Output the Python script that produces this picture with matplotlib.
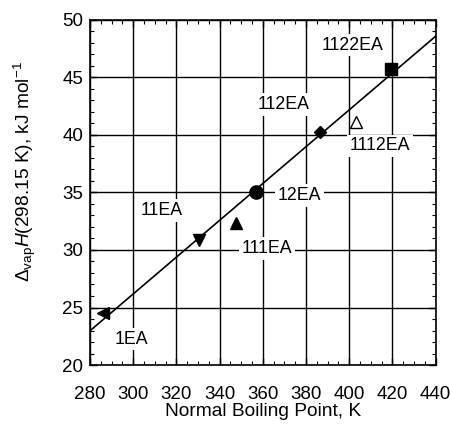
import matplotlib
matplotlib.use("Agg")
import matplotlib.pyplot as plt
from matplotlib.ticker import MultipleLocator

plt.rcParams['font.family'] = ['Liberation Sans', 'DejaVu Sans']
plt.rcParams['mathtext.fontset'] = 'custom'
plt.rcParams['mathtext.rm'] = 'Liberation Sans'
plt.rcParams['mathtext.it'] = 'Liberation Sans:italic'

# compounds: boiling point (K), dHvap (kJ/mol), marker
names = ["1EA", "11EA", "111EA", "12EA", "112EA", "1112EA", "1122EA"]
bp = [286.2, 330.6, 347.4, 356.9, 386.5, 403.1, 419.4]
dh = [24.5, 30.9, 32.35, 35.05, 40.25, 41.1, 45.7]
markers = ["<", "v", "^", "o", "D", "^", "s"]
sizes = [8, 9, 8, 9.5, 6.5, 8, 9]
filled = [True, True, True, True, True, False, True]

# label positions
lab_x = [299.3, 313.2, 362.1, 376.9, 369.5, 414.3, 401.6]
lab_y = [22.26, 33.45, 30.13, 34.7, 42.65, 39.04, 47.8]

# correlation line end points
fit_x = [280, 440]
fit_y = [22.98, 48.56]

fig = plt.figure(figsize=(4.5, 4.28), dpi=100)
ax = fig.add_axes([0.2, 0.147, 0.768, 0.807])

ax.set_xlim(280, 440)
ax.set_ylim(20, 50)
ax.xaxis.set_major_locator(MultipleLocator(20))
ax.xaxis.set_minor_locator(MultipleLocator(5))
ax.yaxis.set_major_locator(MultipleLocator(5))
ax.yaxis.set_minor_locator(MultipleLocator(1))
ax.grid(True, which='major', color='black', linewidth=1.0, zorder=0)
ax.tick_params(which='both', direction='in', top=True, right=True, labelsize=13.5)
ax.tick_params(which='major', length=5, width=1)
ax.tick_params(which='minor', length=3, width=0.8)
ax.tick_params(axis='x', which='major', pad=15)
ax.tick_params(axis='y', which='major', pad=5)
for s in ax.spines.values():
    s.set_linewidth(1.2)

ax.plot(fit_x, fit_y, color='black', linewidth=1.2, zorder=3)

for x, y, m, ms, f in zip(bp, dh, markers, sizes, filled):
    ax.plot(x, y, marker=m, markersize=ms, color='black',
            markerfacecolor='black' if f else 'white', markeredgewidth=1,
            linestyle='none', zorder=4)

for n, x, y in zip(names, lab_x, lab_y):
    ax.text(x, y, n, ha='center', va='center', fontsize=12.8, zorder=2,
            bbox=dict(facecolor='white', edgecolor='none', pad=2))

ax.set_xlabel("Normal Boiling Point, K", fontsize=13.8, labelpad=0)
ax.set_ylabel(r"$\Delta_{\rm vap}\mathit{H}$(298.15 K), kJ mol$^{-1}$", fontsize=13.8)
ax.yaxis.set_label_coords(-0.15, 0.56)

fig.savefig("out.png", dpi=100)
